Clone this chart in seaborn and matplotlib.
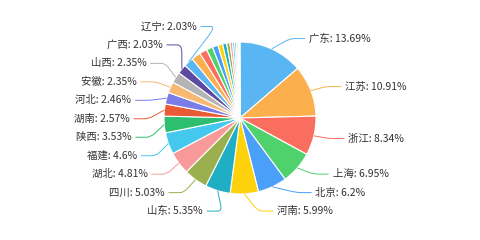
import numpy as np
import matplotlib
matplotlib.use("Agg")
import matplotlib.pyplot as plt
from matplotlib.path import Path
from matplotlib.patches import PathPatch
import seaborn as sns

# ---- data ----
labels = ["广东", "江苏", "浙江", "上海", "北京", "河南", "山东", "四川", "湖北",
          "福建", "陕西", "湖南", "河北", "安徽", "山西", "广西", "辽宁"]
values = [13.69, 10.91, 8.34, 6.95, 6.2, 5.99, 5.35, 5.03, 4.81,
          4.6, 3.53, 2.57, 2.46, 2.35, 2.35, 2.03, 2.03]
# remaining small slices (labels not shown in the chart)
other_values = [1.98, 1.6, 1.35, 1.2, 1.0, 0.85, 0.7, 0.55, 0.45, 0.35, 0.3, 0.2, 0.15, 0.13]

palette_hex = ["#59b6f2", "#fbb04d", "#fa6e60", "#4fd26b", "#4aa0f8", "#fdd20c",
               "#20aec5", "#9ab04f", "#f89a9a", "#45c8ed", "#2dbf6f", "#ea5a35",
               "#7a7de8", "#f7b872", "#b4b4b4", "#5c4aa0"]

sns.set_theme(style="white")
plt.rcParams["font.family"] = ["Noto Sans CJK SC", "DejaVu Sans"]

all_values = values + other_values
pal = sns.color_palette(palette_hex)
colors = [pal[i % len(pal)] for i in range(len(all_values))]

fig = plt.figure(figsize=(4.8, 2.4), dpi=100)
ax = fig.add_axes([0, 0, 1, 1])

wedges, _ = ax.pie(all_values, colors=colors, startangle=90, counterclock=False,
                   radius=1.0, center=(0, 0),
                   wedgeprops=dict(edgecolor="white", linewidth=0.8))

scale = 76.0
cxp, cyp = 240, 118
ax.set_xlim(-cxp / scale, (480 - cxp) / scale)
ax.set_ylim(-(240 - cyp) / scale, cyp / scale)
ax.set_aspect("equal")
ax.axis("off")

total = sum(all_values)
cum = np.cumsum([0] + all_values)
mids = [np.deg2rad(90 - 360 * (cum[i] + all_values[i] / 2) / total) for i in range(len(labels))]

R_nat = 1.15
gap = 0.243
rA = 1.2
len2 = 0.2


def spread(nat, gap):
    idx = sorted(range(len(nat)), key=lambda i: nat[i])
    clusters = []
    for i in idx:
        clusters.append([[i], nat[i]])
        while len(clusters) > 1:
            a, b = clusters[-2], clusters[-1]
            if a[1] + gap * len(a[0]) > b[1]:
                members = a[0] + b[0]
                mean = np.mean([nat[j] for j in members])
                clusters[-2:] = [[members, mean - gap * (len(members) - 1) / 2]]
            else:
                break
    out = [0.0] * len(nat)
    for members, start in clusters:
        for k, j in enumerate(members):
            out[j] = start + k * gap
    return out


for side in (1, -1):
    ids = [i for i in range(len(labels)) if (np.cos(mids[i]) >= 0) == (side == 1)]
    nat = [R_nat * np.sin(mids[i]) for i in ids]
    ys = spread(nat, gap)
    rB = max(abs(y) for y in ys) * 1.02
    rB = max(rB, R_nat)
    for i, y in zip(ids, ys):
        th = mids[i]
        ex, ey = np.cos(th), np.sin(th)
        xe = side * rA * np.sqrt(max(0.0, 1 - y * y / (rB * rB)))
        x3 = xe + side * len2
        p1 = (ex + 0.7 * (xe - ex), ey + 0.7 * (y - ey))
        p2 = (xe + side * 0.3 * len2, y)
        path = Path([(ex, ey), p1, (xe, y), p2, (x3, y)],
                    [Path.MOVETO, Path.LINETO, Path.CURVE3, Path.CURVE3, Path.LINETO])
        ax.add_patch(PathPatch(path, fill=False, edgecolor=colors[i], lw=0.7))
        ax.text(x3 + side * 0.05, y, f"{labels[i]}: {values[i]:g}%",
                ha="left" if side == 1 else "right", va="center",
                fontsize=7.5, color="#333333")

fig.savefig("out.png", dpi=100)
